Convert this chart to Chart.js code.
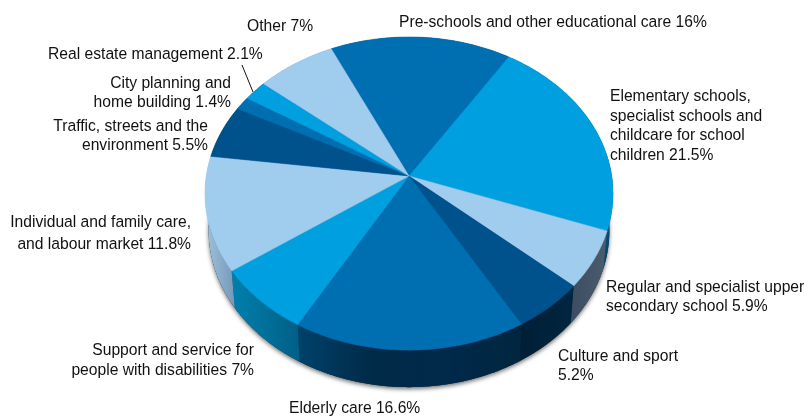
<!DOCTYPE html>
<html>
<head>
<meta charset="utf-8">
<title>Budget breakdown</title>
<script src="https://cdn.jsdelivr.net/npm/chart.js@4/dist/chart.umd.js"></script>
<style>
    html, body { margin: 0; padding: 0; background: #fff; }
    canvas { display: block; }
</style>
</head>
<body>
<canvas id="budgetChart" width="804" height="416"></canvas>
<script>
const categories = [
    ['Pre-schools and other educational care'],
    ['Elementary schools,', 'specialist schools and', 'childcare for school', 'children'],
    ['Regular and specialist upper', 'secondary school'],
    ['Culture and sport', ''],
    ['Elderly care'],
    ['Support and service for', 'people with disabilities'],
    ['Individual and family care,', 'and labour market'],
    ['Traffic, streets and the', 'environment'],
    ['City planning and', 'home building'],
    ['Real estate management'],
    ['Other']
];
const shares = [16, 21.5, 5.9, 5.2, 16.6, 7, 11.8, 5.5, 1.4, 2.1, 7];

const topColors = ['#006fb2', '#009fdf', '#a0cdee', '#00528c', '#006fb2', '#009fdf', '#a0cdee', '#00528c', '#006fb2', '#009fdf', '#a0cdee'];
// colours of each slice's outer wall, left to right
const sideColors = [
    ['#004a78', '#004a78'], ['#00608c', '#004a70'], ['#3b4d5e', '#4a5c6d'], ['#001f36', '#00263f'],
    ['#00426b', '#002a48', '#00294a', '#00263f'], ['#0080ad', '#005f86'], ['#9fc3de', '#7698b8'], ['#00406c', '#00406c'],
    ['#004a78', '#004a78'], ['#00608c', '#00608c'], ['#7698b8', '#7698b8']
];
// [x, first baseline, align] for each label
const labelPlaces = [
    [399, 27, 'left'], [610, 101, 'left'], [606, 292, 'left'], [558, 361, 'left'],
    [289, 413, 'left'], [254, 355, 'right'], [191, 227, 'right'], [208, 131, 'right'],
    [231, 88, 'right'], [48, 59, 'left'], [247, 31, 'left']
];
const lineHeights = [0, 19.6, 19, 19, 0, 19.5, 22, 19, 19, 0, 0];

const TILT = 0.112;       // how much nearer the front edge looks
const SQUASH = 0.758;     // vertical size of the disc against its radius
const APEX_SHIFT = -28;   // centre of the pie against the chart area centre
const DEPTH = 37;
const BOTTOM_SCALE = 0.982;

function rim(arc, angle) {
    const cos = Math.cos(angle), sin = Math.sin(angle);
    const w = 1 - TILT * sin;
    return {
        x: arc.x + arc.outerRadius * 0.994 * cos / w,
        y: arc.y + APEX_SHIFT + arc.outerRadius * SQUASH * sin / w
    };
}

function rimPoints(arc, from, to) {
    const steps = Math.max(2, Math.ceil((to - from) / 0.01));
    const pts = [];
    for (let i = 0; i <= steps; i++) {
        pts.push(rim(arc, from + (to - from) * i / steps));
    }
    return pts;
}

function lower(arc, p) {
    return { x: arc.x + (p.x - arc.x) * BOTTOM_SCALE, y: p.y + DEPTH };
}

class Arc3D extends Chart.ArcElement {
    static id = 'arc3d';

    drawSide(ctx, colors) {
        const pts = rimPoints(this, this.startAngle, this.endAngle);
        const low = pts.map(p => lower(this, p)).reverse();
        const xs = pts.concat(low).map(p => p.x);
        const grad = ctx.createLinearGradient(Math.min(...xs), 0, Math.max(...xs), 0);
        colors.forEach((c, i) => grad.addColorStop(i / (colors.length - 1), c));
        ctx.beginPath();
        pts.concat(low).forEach((p, i) => i ? ctx.lineTo(p.x, p.y) : ctx.moveTo(p.x, p.y));
        ctx.closePath();
        ctx.fillStyle = grad;
        ctx.fill();
    }

    draw(ctx) {
        const pts = rimPoints(this, this.startAngle, this.endAngle);
        ctx.beginPath();
        ctx.moveTo(this.x, this.y + APEX_SHIFT);
        pts.forEach(p => ctx.lineTo(p.x, p.y));
        ctx.closePath();
        ctx.fillStyle = this.options.backgroundColor;
        ctx.strokeStyle = this.options.backgroundColor;
        ctx.lineWidth = 0.5;
        ctx.fill();
        ctx.stroke();
    }
}

class Pie3DController extends Chart.PieController {
    static id = 'pie3d';
    static defaults = { dataElementType: 'arc3d' };

    draw() {
        const ctx = this._ctx;
        const arcs = this._cachedMeta.data;
        const sides = this.getDataset().sideColors;

        // soft shadow under the disc
        const outline = rimPoints(arcs[0], 0, Math.PI * 2).map(p => lower(arcs[0], p));
        ctx.save();
        ctx.shadowColor = 'rgba(0,0,0,0.55)';
        ctx.shadowBlur = 4;
        ctx.shadowOffsetY = 2;
        ctx.fillStyle = '#003050';
        ctx.beginPath();
        outline.forEach((p, i) => i ? ctx.lineTo(p.x, p.y) : ctx.moveTo(p.x, p.y));
        ctx.closePath();
        ctx.fill();
        ctx.restore();

        arcs.forEach((arc, i) => arc.drawSide(ctx, sides[i]));
        arcs.forEach(arc => arc.draw(ctx));
    }
}

Chart.register(Arc3D, Pie3DController);

const sliceLabels = {
    id: 'sliceLabels',
    afterDraw(chart) {
        const ctx = chart.ctx;
        ctx.save();
        ctx.fillStyle = '#111';
        ctx.font = '15.65px "Liberation Sans", Arial, sans-serif';
        ctx.textBaseline = 'alphabetic';
        categories.forEach((lines, i) => {
            const [x, y, align] = labelPlaces[i];
            ctx.textAlign = align;
            lines.forEach((line, n) => {
                const last = n === lines.length - 1;
                const text = last ? `${line} ${shares[i]}%`.trim() : line;
                ctx.fillText(text, x, y + n * lineHeights[i]);
            });
        });
        // leader for the real estate label
        ctx.strokeStyle = '#111';
        ctx.lineWidth = 1;
        ctx.beginPath();
        ctx.moveTo(242, 65);
        ctx.lineTo(253, 92);
        ctx.stroke();
        ctx.restore();
    }
};

new Chart(document.getElementById('budgetChart'), {
    type: 'pie3d',
    data: {
        labels: categories.map(c => c.join(' ').trim()),
        datasets: [{
            data: shares,
            backgroundColor: topColors,
            sideColors: sideColors,
            borderWidth: 0
        }]
    },
    options: {
        responsive: false,
        animation: false,
        rotation: -25,
        layout: { padding: { left: 14, right: 0, top: 0, bottom: 8 } },
        plugins: { legend: { display: false }, tooltip: { enabled: false } }
    },
    plugins: [sliceLabels]
});
</script>
</body>
</html>
